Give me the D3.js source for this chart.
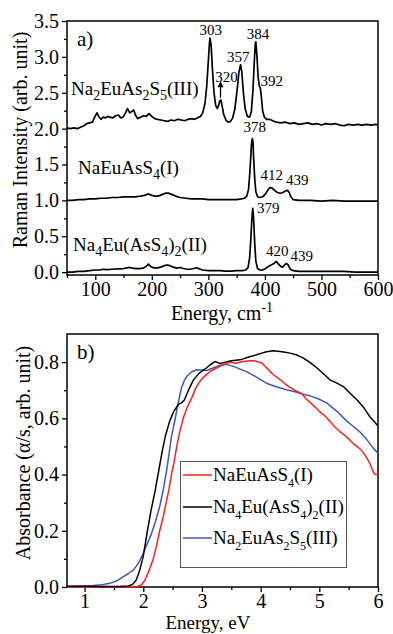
<!DOCTYPE html>
<html><head><meta charset="utf-8">
<script src="https://cdn.jsdelivr.net/npm/d3@7"></script>
<style>
html,body{margin:0;padding:0;background:#fff;}
svg{display:block;}
text{font-family:"Liberation Serif","Times New Roman",serif;fill:#000;}
</style></head>
<body>
<svg id="c" width="393" height="634"></svg>
<script>
// ---------- DATA: panel a) Raman spectra [energy cm-1, intensity] ----------
const ramanIII = [[50,2.01],[56,2.00],[62,2.01],[68,2.00],[74,2.02],[80,2.04],[85,2.07],[90,2.08],[95,2.09],[99,2.16],[103,2.22],[106,2.17],[110,2.13],[114,2.16],[118,2.15],[122,2.17],[126,2.16],[131,2.15],[136,2.18],[141,2.19],[145,2.15],[149,2.16],[153,2.21],[157,2.28],[161,2.22],[165,2.24],[168,2.26],[171,2.19],[175,2.14],[180,2.16],[185,2.18],[190,2.17],[195,2.21],[200,2.17],[205,2.14],[210,2.13],[216,2.12],[222,2.11],[228,2.10],[234,2.12],[240,2.11],[246,2.13],[252,2.12],[258,2.11],[264,2.13],[270,2.14],[276,2.13],[281,2.15],[286,2.17],[290,2.22],[294,2.35],[297,2.58],[300,2.95],[302,3.2],[303,3.26],[305,3.15],[307,2.85],[310,2.5],[313,2.32],[316,2.28],[318,2.32],[320,2.38],[322,2.40],[324,2.33],[327,2.2],[331,2.12],[335,2.09],[339,2.10],[343,2.15],[347,2.28],[351,2.55],[354,2.78],[357,2.89],[359,2.8],[362,2.5],[365,2.28],[369,2.17],[373,2.16],[376,2.24],[379,2.55],[381,2.9],[383,3.18],[384,3.21],[386,3.0],[388,2.72],[390,2.6],[392,2.56],[394,2.42],[396,2.25],[399,2.16],[403,2.13],[408,2.13],[414,2.11],[420,2.09],[428,2.08],[436,2.09],[444,2.07],[452,2.08],[460,2.06],[468,2.07],[476,2.08],[484,2.06],[492,2.07],[500,2.05],[508,2.07],[516,2.06],[524,2.07],[532,2.05],[540,2.04],[548,2.06],[556,2.05],[564,2.06],[572,2.05],[580,2.06],[588,2.05],[596,2.06],[600,2.05]];
const ramanI = [[50,1.00],[60,1.00],[70,1.01],[80,1.01],[90,1.02],[100,1.02],[110,1.03],[120,1.03],[130,1.04],[140,1.04],[150,1.05],[160,1.05],[170,1.05],[180,1.06],[187,1.07],[194,1.09],[200,1.07],[206,1.06],[212,1.06],[218,1.08],[224,1.10],[230,1.10],[236,1.08],[242,1.06],[250,1.04],[260,1.03],[270,1.02],[280,1.02],[290,1.02],[300,1.01],[310,1.01],[320,1.01],[330,1.01],[340,1.01],[350,1.01],[358,1.02],[364,1.03],[368,1.06],[371,1.15],[373,1.35],[375,1.6],[376,1.75],[377,1.84],[378,1.86],[379,1.8],[380,1.6],[382,1.3],[384,1.12],[387,1.05],[391,1.04],[396,1.05],[401,1.09],[405,1.14],[409,1.18],[413,1.17],[417,1.14],[422,1.11],[427,1.10],[432,1.11],[436,1.13],[440,1.14],[443,1.11],[446,1.05],[450,1.01],[460,1.00],[480,1.00],[500,0.99],[520,1.00],[540,0.99],[560,0.99],[580,0.99],[600,0.99]];
const ramanII = [[50,0.00],[60,0.00],[70,0.01],[80,0.01],[90,0.02],[100,0.03],[108,0.03],[114,0.04],[120,0.035],[130,0.04],[140,0.045],[150,0.05],[156,0.06],[161,0.065],[166,0.055],[172,0.05],[180,0.05],[186,0.06],[190,0.08],[194,0.11],[198,0.08],[203,0.06],[210,0.06],[216,0.07],[222,0.09],[227,0.10],[232,0.09],[238,0.07],[244,0.055],[250,0.065],[256,0.05],[262,0.04],[268,0.04],[274,0.05],[279,0.06],[284,0.045],[290,0.03],[300,0.02],[310,0.02],[320,0.02],[330,0.015],[340,0.015],[350,0.02],[360,0.02],[366,0.03],[370,0.06],[373,0.2],[375,0.45],[377,0.75],[378.5,0.89],[380,0.75],[382,0.4],[384,0.15],[387,0.05],[391,0.03],[396,0.03],[401,0.05],[406,0.08],[411,0.10],[416,0.12],[420,0.15],[424,0.11],[428,0.08],[431,0.07],[435,0.10],[438,0.12],[441,0.10],[445,0.04],[450,0.02],[460,0.01],[480,0.01],[500,0.01],[520,0.01],[540,0.01],[560,0.00],[580,0.00],[600,0.00]];
const ramanXTicks = [100,200,300,400,500,600];
const ramanYTicks = [0.0,0.5,1.0,1.5,2.0,2.5,3.0,3.5];
// peak annotations [label, energy, intensity]
const peakLabels = [["303",304,3.30],["384",388,3.25],["357",353,2.93],["320",332,2.65],["392",412,2.60],["378",382,1.95],["412",412,1.28],["439",457,1.21],["379",406,0.82],["420",422,0.22],["439",465,0.15]];

// ---------- DATA: panel b) absorbance [energy eV, absorbance] ----------
const absI = [[0.7,0.0],[1.0,0.0],[1.4,0.0],[1.8,0.0],[1.9,0.002],[1.97,0.008],[2.03,0.025],[2.1,0.06],[2.17,0.1],[2.23,0.15],[2.28,0.2],[2.34,0.25],[2.39,0.3],[2.44,0.35],[2.48,0.4],[2.53,0.45],[2.57,0.5],[2.62,0.55],[2.68,0.6],[2.75,0.64],[2.82,0.67],[2.9,0.71],[2.96,0.73],[3.02,0.745],[3.1,0.76],[3.18,0.772],[3.25,0.779],[3.35,0.79],[3.48,0.8],[3.58,0.796],[3.68,0.801],[3.78,0.804],[3.87,0.806],[3.95,0.801],[4.02,0.797],[4.1,0.78],[4.16,0.767],[4.22,0.755],[4.33,0.738],[4.42,0.722],[4.5,0.71],[4.6,0.698],[4.7,0.688],[4.78,0.668],[4.85,0.655],[4.93,0.64],[5.0,0.625],[5.09,0.61],[5.18,0.59],[5.26,0.57],[5.35,0.553],[5.43,0.54],[5.5,0.527],[5.57,0.512],[5.64,0.50],[5.7,0.49],[5.75,0.478],[5.8,0.462],[5.86,0.44],[5.9,0.42],[5.93,0.405],[5.96,0.40],[6.0,0.40]];
const absII = [[0.7,0.003],[1.0,0.003],[1.3,0.002],[1.6,0.002],[1.75,0.004],[1.82,0.01],[1.88,0.025],[1.94,0.06],[2.0,0.11],[2.07,0.2],[2.13,0.27],[2.2,0.34],[2.26,0.41],[2.32,0.48],[2.38,0.54],[2.45,0.59],[2.52,0.625],[2.6,0.65],[2.65,0.655],[2.7,0.665],[2.77,0.7],[2.85,0.735],[2.95,0.76],[3.08,0.78],[3.14,0.79],[3.22,0.802],[3.27,0.798],[3.31,0.795],[3.4,0.8],[3.5,0.805],[3.65,0.808],[3.8,0.818],[3.93,0.826],[4.02,0.832],[4.1,0.837],[4.22,0.84],[4.33,0.838],[4.42,0.835],[4.5,0.832],[4.62,0.825],[4.73,0.814],[4.85,0.797],[4.96,0.779],[5.08,0.757],[5.18,0.737],[5.3,0.725],[5.41,0.713],[5.52,0.69],[5.64,0.666],[5.75,0.64],[5.86,0.606],[5.93,0.59],[5.98,0.577],[6.0,0.575]];
const absIII = [[0.7,0.002],[0.9,0.003],[1.15,0.005],[1.3,0.008],[1.43,0.013],[1.55,0.022],[1.66,0.037],[1.75,0.048],[1.83,0.06],[1.92,0.085],[2.0,0.12],[2.07,0.155],[2.14,0.19],[2.21,0.235],[2.28,0.286],[2.34,0.345],[2.40,0.417],[2.44,0.475],[2.48,0.535],[2.54,0.595],[2.6,0.66],[2.65,0.708],[2.7,0.735],[2.74,0.749],[2.82,0.765],[2.91,0.773],[3.0,0.772],[3.08,0.77],[3.2,0.78],[3.3,0.788],[3.42,0.792],[3.55,0.784],[3.65,0.775],[3.76,0.766],[3.9,0.75],[4.0,0.738],[4.1,0.725],[4.25,0.713],[4.44,0.702],[4.6,0.694],[4.73,0.686],[4.84,0.68],[5.0,0.668],[5.13,0.654],[5.3,0.625],[5.47,0.59],[5.58,0.571],[5.7,0.55],[5.8,0.527],[5.92,0.494],[6.0,0.476]];
const absXTicks = [1,2,3,4,5,6];
const absYTicks = [0.0,0.2,0.4,0.6,0.8];
const legendNames = ["I","II","III"];
const colors = {I:"#ff1f1f", II:"#000000", III:"#4059b8"};

// ---------- DRAW ----------
const svg = d3.select("#c");
const FONT = 20;
const SERIF = '"Liberation Serif","Times New Roman",serif';

function richText(g, parts, x, y, size, subSize, subDy, supDy){
  const t = g.append("text").attr("x", x).attr("y", y).attr("font-size", size).attr("font-family", SERIF);
  parts.forEach(p=>{
    const s = t.append("tspan").text(p[0]);
    if(p[1]==="sub"){ s.attr("font-size", subSize).attr("dy", subDy); }
    else if(p[1]==="sup"){ s.attr("font-size", subSize).attr("dy", -supDy); }
    if(p[2]) s.attr("dy", p[2]);
  });
  return t;
}

function panel(cfg){
  const x = d3.scaleLinear().domain(cfg.xd).range([67,378]);
  const y = d3.scaleLinear().domain(cfg.yd).range([cfg.bottom, cfg.top]);
  const g = svg.append("g");
  // minor ticks
  g.append("g").attr("transform",`translate(0,${cfg.bottom})`)
    .call(d3.axisBottom(x).tickValues(cfg.xMinor).tickSize(3).tickFormat(""))
    .call(s=>{s.select(".domain").remove(); s.selectAll("line").attr("stroke-width",1.3);});
  g.append("g").attr("transform",`translate(67,0)`)
    .call(d3.axisLeft(y).tickValues(cfg.yMinor).tickSize(3).tickFormat(""))
    .call(s=>{s.select(".domain").remove(); s.selectAll("line").attr("stroke-width",1.3);});
  // major ticks
  g.append("g").attr("transform",`translate(0,${cfg.bottom})`)
    .call(d3.axisBottom(x).tickValues(cfg.xTicks).tickSize(5).tickPadding(2).tickFormat(cfg.xFmt))
    .call(s=>{s.select(".domain").remove(); s.selectAll("line").attr("stroke-width",1.3);
      s.attr("font-family",SERIF);
      s.selectAll("text").attr("font-size",FONT).attr("font-family",SERIF);});
  g.append("g").attr("transform",`translate(67,0)`)
    .call(d3.axisLeft(y).tickValues(cfg.yTicks).tickSize(5).tickPadding(3).tickFormat(cfg.yFmt))
    .call(s=>{s.select(".domain").remove(); s.selectAll("line").attr("stroke-width",1.3);
      s.attr("font-family",SERIF);
      s.selectAll("text").attr("font-size",FONT).attr("font-family",SERIF);});
  // frame
  g.append("rect").attr("x",67).attr("y",cfg.top).attr("width",311).attr("height",cfg.bottom-cfg.top)
    .attr("fill","none").attr("stroke","#000").attr("stroke-width",1.5);
  return {x,y,g};
}

// Panel a
const A = panel({xd:[50,600], yd:[-0.04,3.5], top:21, bottom:275,
  xTicks:ramanXTicks, yTicks:ramanYTicks,
  xMinor:d3.range(50,601,50).filter(v=>!ramanXTicks.includes(v)),
  yMinor:d3.range(0,3.5,0.5).map(v=>v+0.25),
  xFmt:d3.format("d"), yFmt:d3.format(".1f")});
const lineA = d3.line().x(d=>A.x(d[0])).y(d=>A.y(d[1]));
[ramanIII, ramanI, ramanII].forEach(s=>{
  A.g.append("path").datum(s).attr("d",lineA).attr("fill","none")
    .attr("stroke","#000").attr("stroke-width",1.7).attr("stroke-linejoin","round");
});
A.g.selectAll("text.pk").data(peakLabels).join("text").attr("class","pk")
  .attr("x",d=>A.x(d[1])).attr("y",d=>A.y(d[2])).attr("text-anchor","middle")
  .attr("font-size",15).attr("font-family",SERIF).text(d=>d[0]);
// arrow on 320 shoulder
{
  const ax = A.x(321.5), y1 = A.y(2.43), y2 = A.y(2.66);
  A.g.append("line").attr("x1",ax).attr("x2",ax).attr("y1",y1).attr("y2",y2+2)
    .attr("stroke","#000").attr("stroke-width",1.3);
  A.g.append("path").attr("d",`M${ax-3},${y2+6}L${ax},${y2}L${ax+3},${y2+6}Z`).attr("fill","#000");
}
A.g.append("text").attr("x",77).attr("y",46).attr("font-size",21).attr("font-family",SERIF).text("a)");
richText(A.g, [["Na"],["2","sub"],["EuAs","", -5],["2","sub"],["S","",-5],["5","sub"],["(III)","",-5]], 71, 95, 19, 14, 5);
richText(A.g, [["NaEuAsS"],["4","sub"],["(I)","",-5]], 78, 174, 19, 14, 5);
richText(A.g, [["Na"],["4","sub"],["Eu(AsS","",-5],["4","sub"],[")","",-5],["2","sub"],["(II)","",-5]], 73, 251, 19, 14, 5);
// axis titles
svg.append("text").attr("transform","translate(27,140) rotate(-90)").attr("text-anchor","middle")
  .attr("font-size",FONT).attr("font-family",SERIF).text("Raman Intensity (arb. unit)");
{
  const t = svg.append("text").attr("x",222).attr("y",320).attr("text-anchor","middle")
    .attr("font-size",FONT).attr("font-family",SERIF);
  t.append("tspan").text("Energy, cm");
  t.append("tspan").attr("font-size",14).attr("dy",-8).text("-1");
}

// Panel b
const B = panel({xd:[0.7,6], yd:[0,0.9], top:334, bottom:587,
  xTicks:absXTicks, yTicks:absYTicks,
  xMinor:[1.5,2.5,3.5,4.5,5.5],
  yMinor:[0.1,0.3,0.5,0.7],
  xFmt:d3.format("d"), yFmt:d3.format(".1f")});
const lineB = d3.line().x(d=>B.x(d[0])).y(d=>B.y(d[1]));
const absSeries = {I:absI, II:absII, III:absIII};
["III","I","II"].forEach(k=>{
  B.g.append("path").datum(absSeries[k]).attr("d",lineB).attr("fill","none")
    .attr("stroke",colors[k]).attr("stroke-width",1.5).attr("stroke-linejoin","round");
});
B.g.append("text").attr("x",77).attr("y",359).attr("font-size",21).attr("font-family",SERIF).text("b)");
// legend
{
  const lg = B.g.append("g");
  lg.append("rect").attr("x",180.5).attr("y",461.5).attr("width",166).attr("height",106)
    .attr("fill","#fff").attr("stroke","#555").attr("stroke-width",1);
  const rows = [475,507,538];
  const labels = {
    I:[["NaEuAsS"],["4","sub"],["(I)","",-6]],
    II:[["Na"],["4","sub"],["Eu(AsS","",-6],["4","sub"],[")","",-6],["2","sub"],["(II)","",-6]],
    III:[["Na"],["2","sub"],["EuAs","",-6],["2","sub"],["S","",-6],["5","sub"],["(III)","",-6]]
  };
  legendNames.forEach((k,i)=>{
    lg.append("line").attr("x1",183).attr("x2",212).attr("y1",rows[i]).attr("y2",rows[i])
      .attr("stroke",colors[k]).attr("stroke-width",1.5);
    richText(lg, labels[k], 213, rows[i]+6, 19, 12, 6);
  });
}
svg.append("text").attr("transform","translate(30,453) rotate(-90)").attr("text-anchor","middle")
  .attr("font-size",FONT).attr("font-family",SERIF).text("Absorbance (α/s, arb. unit)");
svg.append("text").attr("x",208).attr("y",629).attr("text-anchor","middle").attr("font-size",19)
  .attr("font-family",SERIF).text("Energy, eV");
</script>
</body></html>
